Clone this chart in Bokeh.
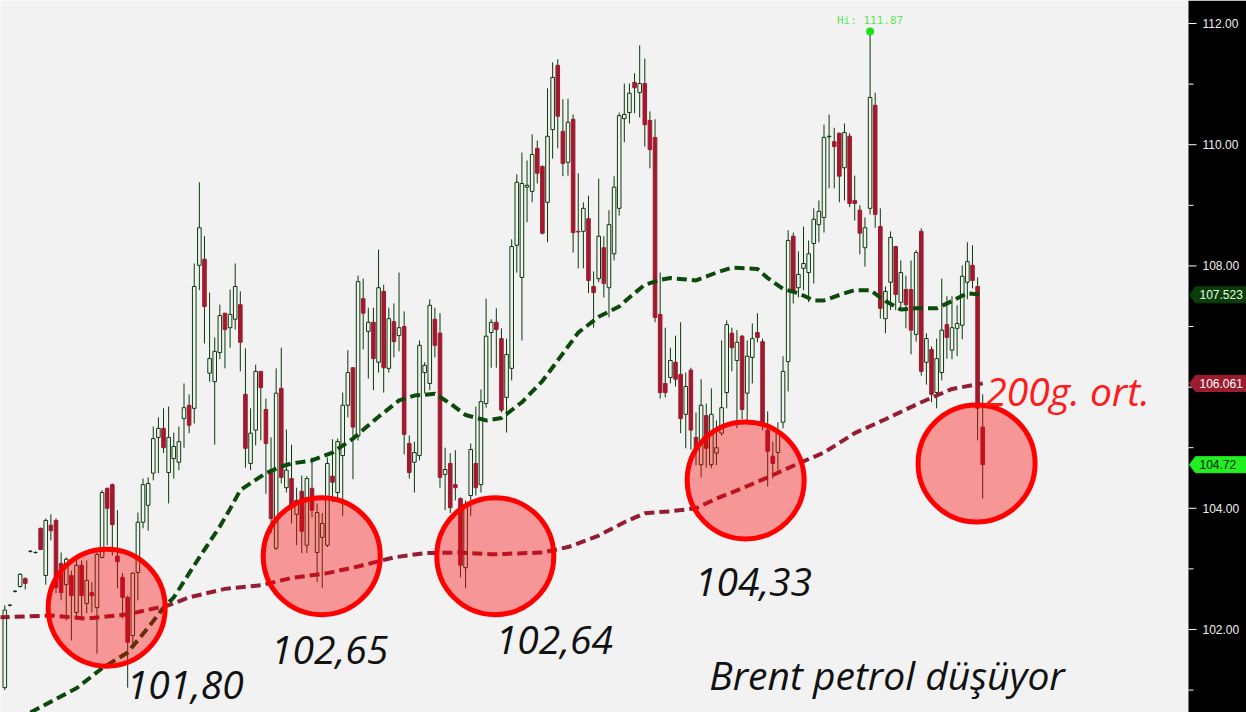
import numpy as np
from bokeh.plotting import figure
from bokeh.models import BoxAnnotation
from bokeh.core.properties import value
from bokeh.embed import file_html
from bokeh.resources import INLINE

# ---------------- data (Brent, daily OHLC) ----------------
opens = [101.04, 102.40, 102.63, 102.71, 102.84, 103.29, 103.27, 103.67, 102.89, 103.72,
         103.80, 103.09, 102.74, 102.89, 102.28, 103.06, 102.43, 102.61, 102.36, 103.19,
         104.33, 104.39, 103.21, 102.86, 102.53, 101.90, 102.94, 103.77, 104.05, 104.58,
         105.17, 105.32, 104.59, 104.82, 104.76, 105.48, 105.70, 105.65, 108.01, 108.11,
         106.23, 106.09, 106.57, 107.22, 106.98, 107.12, 107.36, 105.88, 104.74, 105.29,
         106.26, 105.63, 104.59, 103.34, 105.98, 104.34, 104.49, 103.90, 104.28, 103.39,
         104.33, 103.27, 103.52, 103.39, 104.53, 104.26, 104.87, 105.70, 106.32, 105.19,
         107.46, 106.92, 107.07, 106.41, 107.58, 106.31, 107.08, 106.85, 107.00, 105.07,
         104.76, 104.87, 106.24, 106.06, 107.12, 106.89, 104.56, 104.74, 104.39, 104.16,
         103.02, 104.21, 104.74, 104.39, 105.73, 106.90, 107.07, 106.80, 105.83, 106.31,
         108.34, 107.81, 109.30, 109.23, 109.94, 109.64, 109.05, 110.25, 111.31, 110.22,
         109.71, 110.42, 108.57, 108.57, 108.78, 107.66, 107.79, 108.30, 107.64, 108.20,
         108.95, 110.43, 110.53, 111.03, 110.86, 111.01, 110.40, 110.12, 107.20, 106.06,
         106.16, 106.41, 106.21, 105.55, 106.28, 105.17, 104.72, 105.53, 104.72, 104.91,
         105.24, 105.91, 106.89, 106.44, 106.84, 105.90, 106.49, 106.90, 106.75, 105.29,
         104.86, 104.92, 105.42, 106.42, 108.49, 107.64, 107.96, 107.89, 108.37, 108.68,
         108.80, 110.13, 110.05, 110.19, 109.62, 110.14, 109.08, 108.92, 108.30, 108.95,
         110.65, 108.65, 107.13, 107.73, 108.32, 107.40, 107.61, 107.61, 106.87, 108.57,
         106.41, 106.62, 105.91, 106.24, 107.03, 106.61, 106.97, 107.02, 107.73, 108.01,
         107.66, 105.34]
highs = [102.40, 102.42, 102.65, 102.93, 102.86, 103.31, 103.29, 103.68, 103.83, 103.90,
         103.83, 103.27, 103.19, 102.97, 103.14, 103.14, 103.14, 102.78, 103.27, 104.30,
         104.34, 104.41, 103.97, 102.93, 102.56, 102.94, 103.93, 104.49, 104.51, 105.35,
         105.50, 105.65, 105.68, 105.25, 105.35, 106.06, 105.88, 108.04, 109.38, 108.49,
         107.56, 106.82, 107.36, 107.22, 107.61, 108.04, 107.58, 106.64, 105.65, 106.37,
         106.26, 105.81, 105.17, 106.31, 106.65, 105.30, 105.05, 104.34, 104.54, 104.53,
         104.84, 104.08, 103.92, 104.84, 105.14, 105.15, 105.91, 106.61, 106.32, 107.84,
         107.79, 107.31, 107.31, 108.27, 107.69, 107.31, 107.38, 107.89, 107.25, 105.20,
         105.10, 106.77, 106.41, 107.45, 107.31, 107.22, 105.00, 104.91, 104.96, 104.18,
         104.13, 105.07, 105.68, 105.96, 107.46, 107.12, 107.30, 106.97, 106.80, 108.44,
         109.51, 109.87, 109.74, 110.17, 110.07, 109.66, 110.93, 111.36, 111.41, 110.75,
         110.76, 110.50, 109.53, 109.05, 109.16, 107.91, 109.44, 108.49, 108.92, 109.48,
         110.53, 111.01, 111.01, 111.18, 111.64, 111.42, 110.55, 110.42, 107.89, 106.98,
         106.65, 106.85, 107.07, 106.24, 106.32, 105.58, 106.13, 105.73, 105.98, 105.45,
         106.77, 107.10, 106.98, 106.94, 106.86, 106.77, 107.05, 107.22, 106.80, 105.60,
         105.10, 105.42, 106.51, 108.59, 108.55, 108.24, 108.65, 108.42, 108.95, 109.08,
         110.33, 110.50, 110.28, 110.20, 110.35, 110.19, 109.49, 109.00, 108.80, 111.87,
         110.86, 108.95, 107.66, 108.57, 108.33, 108.09, 107.84, 108.09, 108.26, 108.62,
         106.89, 106.67, 106.80, 107.79, 107.50, 107.50, 107.35, 108.01, 108.39, 108.34,
         107.81, 105.88]
lows = [101.00, 102.38, 102.61, 102.69, 102.66, 103.27, 103.25, 103.31, 102.74, 103.47,
        102.60, 102.48, 102.15, 101.82, 102.18, 102.15, 102.27, 102.28, 101.60, 103.17,
        103.39, 103.22, 102.68, 102.18, 101.04, 101.70, 102.48, 103.67, 103.63, 104.46,
        104.58, 104.91, 104.08, 104.49, 104.63, 105.00, 105.24, 105.40, 107.60, 106.72,
        106.09, 105.05, 106.46, 106.31, 106.65, 106.95, 106.26, 104.67, 104.63, 105.04,
        105.12, 104.24, 103.59, 103.31, 104.41, 104.26, 103.75, 103.39, 103.26, 103.26,
        103.85, 102.78, 102.69, 103.36, 104.10, 104.10, 103.87, 105.50, 104.48, 105.12,
        106.62, 106.14, 105.95, 106.24, 105.91, 106.24, 106.49, 106.59, 104.89, 104.49,
        104.26, 104.79, 105.90, 105.95, 106.49, 104.34, 103.97, 103.92, 104.13, 102.86,
        102.68, 103.87, 104.21, 104.26, 105.66, 106.32, 106.32, 105.58, 105.25, 106.11,
        107.89, 106.77, 108.72, 109.05, 109.36, 108.52, 108.39, 109.77, 109.94, 109.48,
        109.49, 108.22, 107.96, 107.96, 107.55, 106.98, 107.73, 107.48, 107.15, 108.09,
        108.83, 110.04, 110.35, 110.52, 110.45, 109.97, 109.61, 107.07, 105.81, 105.83,
        106.06, 106.01, 105.24, 104.99, 104.97, 104.71, 104.51, 104.67, 104.66, 104.71,
        105.20, 105.65, 106.26, 105.32, 105.47, 105.45, 106.06, 106.74, 105.29, 104.36,
        104.49, 104.63, 105.32, 105.93, 107.38, 107.48, 107.60, 107.40, 107.71, 108.39,
        108.55, 109.28, 109.28, 109.05, 109.08, 108.97, 108.75, 108.19, 107.99, 108.85,
        108.63, 107.13, 106.89, 107.27, 107.27, 107.28, 106.97, 106.54, 106.75, 106.19,
        106.04, 105.75, 105.65, 106.11, 106.47, 106.46, 106.51, 106.79, 107.45, 107.63,
        105.12, 104.16]
closes = [102.32, 102.40, 102.63, 102.91, 102.76, 103.29, 103.27, 103.32, 103.80, 103.63,
          102.69, 102.61, 103.16, 102.56, 103.06, 102.56, 102.81, 102.56, 103.24, 104.26,
          104.00, 103.73, 103.12, 102.53, 101.79, 102.93, 103.77, 104.39, 104.41, 105.15,
          105.32, 105.00, 105.17, 105.02, 105.10, 105.66, 105.37, 107.66, 108.63, 107.33,
          106.47, 106.59, 107.18, 106.95, 107.20, 107.66, 106.74, 104.99, 105.24, 106.26,
          105.99, 105.07, 103.83, 105.90, 104.51, 104.63, 104.01, 104.13, 103.62, 104.49,
          103.97, 103.93, 103.75, 104.74, 104.43, 105.10, 105.70, 106.24, 105.34, 107.74,
          107.22, 107.07, 106.47, 107.64, 106.32, 107.13, 106.75, 106.98, 105.22, 104.59,
          104.92, 106.69, 106.36, 107.35, 106.69, 104.51, 104.64, 104.01, 104.34, 103.06,
          104.06, 104.97, 104.34, 105.76, 106.84, 107.07, 106.95, 105.62, 106.54, 108.32,
          109.38, 109.36, 109.33, 109.84, 109.53, 108.54, 110.14, 111.11, 110.47, 109.69,
          110.37, 108.55, 108.56, 108.95, 107.76, 107.56, 108.49, 107.71, 108.68, 109.30,
          110.48, 110.50, 110.85, 110.94, 111.01, 110.33, 109.92, 107.15, 105.91, 105.91,
          106.44, 106.13, 105.48, 106.01, 105.29, 104.99, 105.70, 104.99, 105.55, 105.00,
          105.66, 107.03, 106.65, 106.74, 105.63, 106.51, 106.80, 106.82, 105.42, 104.94,
          104.74, 105.25, 106.26, 108.42, 107.56, 107.86, 108.04, 108.20, 108.77, 108.90,
          110.12, 110.14, 109.97, 109.48, 110.20, 109.03, 109.03, 108.54, 108.63, 110.78,
          108.85, 107.30, 107.58, 108.47, 107.53, 107.89, 107.36, 106.94, 108.22, 106.26,
          106.80, 105.88, 106.47, 106.94, 106.82, 106.98, 107.05, 107.83, 108.07, 107.76,
          105.65, 104.72]

# moving averages
ma_green_idx = [5, 14, 19, 24, 28, 31, 33, 38, 42, 44, 46, 49, 51, 54, 56, 60, 64, 68, 73, 77,
                80, 84, 87, 90, 94, 97, 101, 105, 108, 112, 116, 120, 122, 125, 128, 130, 135,
                139, 142, 147, 149, 152, 155, 158, 160, 163, 166, 169, 172, 175, 178, 182, 185,
                188, 191]
ma_green_val = [100.63, 101.03, 101.36, 101.62, 102.03, 102.36, 102.53, 103.19, 103.70, 103.99,
                104.30, 104.47, 104.58, 104.69, 104.74, 104.79, 104.92, 105.15, 105.51, 105.78,
                105.86, 105.89, 105.73, 105.54, 105.45, 105.49, 105.75, 106.10, 106.44, 106.90,
                107.16, 107.33, 107.48, 107.69, 107.77, 107.80, 107.76, 107.89, 107.97, 107.95,
                107.80, 107.62, 107.55, 107.43, 107.43, 107.52, 107.60, 107.60, 107.42, 107.28,
                107.30, 107.30, 107.42, 107.55, 107.523]
ma_red_idx = [-1, 9, 16, 24, 32, 36, 43, 50, 56, 63, 69, 76, 82, 89, 95, 105, 110, 116, 121,
              125, 130, 135, 139, 144, 149, 155, 160, 166, 172, 179, 185, 191]
ma_red_val = [102.20, 102.23, 102.18, 102.25, 102.40, 102.53, 102.67, 102.73, 102.85, 102.93,
              103.04, 103.19, 103.26, 103.27, 103.24, 103.27, 103.36, 103.55, 103.77, 103.92,
              103.95, 104.00, 104.16, 104.33, 104.51, 104.74, 104.92, 105.24, 105.47, 105.75,
              105.97, 106.061]

# highlighted lows (circles) and annotation texts
mark_x = [19.9, 61.9, 95.8, 144.7, 189.8]
mark_y = [102.36, 103.21, 103.21, 104.46, 104.74]
low_text = ["101,80", "102,65", "102,64", "104,33"]
low_text_x = [23.8, 52.0, 95.9, 134.8]
low_text_y = [101.09, 101.66, 101.83, 102.78]
ma_text = ["200g. ort."]
ma_text_x = [191.5]
ma_text_y = [105.95]
title_text = ["Brent petrol düşüyor"]
title_x = [137.6]
title_y = [101.26]

# price axis ticks and last-value tags
major_ticks = [102, 104, 106, 108, 110, 112]
minor_ticks = [101, 103, 105, 107, 109, 111]
tag_values = [107.523, 106.061, 104.72]
tag_text = ["107.523", "106.061", "104.72"]
tag_bg = ["#0b3d0b", "#9c1c2e", "#22ee22"]
tag_fg = ["#e8ffe8", "#ffffff", "#002200"]

# ---------------- figure ----------------
PX = 5.12      # pixels per bar
PY = 60.6      # pixels per price unit
X0, X1 = -0.84, 242.52
Y0, Y1 = 100.63, 112.38
AXIS_X = (1188 - 4.3) / PX   # start of price-axis panel (bar units)

idx = np.arange(len(opens))
o = np.array(opens); h = np.array(highs); l = np.array(lows); c = np.array(closes)
up = c >= o

p = figure(width=1246, height=712, x_range=(X0, X1), y_range=(Y0, Y1),
           x_axis_location=None, y_axis_location=None,
           toolbar_location=None, output_backend="svg",
           min_border=0, background_fill_color="#f2f2f2",
           border_fill_color="#f2f2f2", outline_line_color=None)
p.grid.grid_line_color = None

# price axis panel
p.add_layout(BoxAnnotation(left=AXIS_X, fill_color="#000000", fill_alpha=1.0,
                           line_color=None, level="underlay"))
p.segment(x0=[AXIS_X] * len(major_ticks), y0=major_ticks,
          x1=[AXIS_X + 8 / PX] * len(major_ticks), y1=major_ticks,
          line_color="white", line_width=1)
p.segment(x0=[AXIS_X] * len(minor_ticks), y0=minor_ticks,
          x1=[AXIS_X + 5 / PX] * len(minor_ticks), y1=minor_ticks,
          line_color="white", line_width=1)
p.text(x=[AXIS_X + 14 / PX] * len(major_ticks), y=major_ticks,
       text=[f"{t:.2f}" for t in major_ticks], text_baseline="middle", text_align="left",
       text_font=value("Liberation Sans"), text_font_size="12px", text_color="#f0f0f0")

# candles
wick_col = "#0a3a0a"
p.segment(x0=idx, y0=h, x1=idx, y1=l, line_color=wick_col, line_width=1)
p.vbar(x=idx[up], width=0.7, top=c[up], bottom=o[up],
       fill_color="#f2f2f2", line_color=wick_col, line_width=1)
p.vbar(x=idx[~up], width=0.7, top=o[~up], bottom=c[~up],
       fill_color="#a01a2e", line_color="#a01a2e", line_width=1)

# moving averages
p.line(ma_red_idx, ma_red_val, line_color="#951d32", line_width=4, line_dash="10 5")
p.line(ma_green_idx, ma_green_val, line_color="#0b4a0b", line_width=4, line_dash="10 5")

# circles around lows
p.scatter(mark_x, mark_y, marker="circle", size=117, fill_color="#ff0000", fill_alpha=0.38,
          line_color="#ff0000", line_width=5)

# high marker
hi_i = int(np.argmax(h)); hi_v = float(h[hi_i])
p.scatter([hi_i], [hi_v], marker="circle", size=8, fill_color="#1fe01f", line_color=None)
p.text(x=[hi_i], y=[hi_v + 4 / PY], text=[f"Hi: {hi_v:.2f}"], text_align="center",
       text_baseline="bottom", text_font=value("DejaVu Sans Mono"), text_font_size="11px",
       text_color="#5ee65e")

# annotations
big = dict(text_font=value("Open Sans"), text_font_style="italic", text_font_size="39px",
           text_baseline="alphabetic", text_align="left")
p.text(x=low_text_x, y=low_text_y, text=low_text, text_color="#111111", **big)
p.text(x=title_x, y=title_y, text=title_text, text_color="#111111", **big)
p.text(x=ma_text_x, y=ma_text_y, text=ma_text, text_color="#ff1a1a", **big)

# last-value tags on the price axis
tip = AXIS_X + 1 / PX
body = AXIS_X + 7 / PX
right = X1 + 1
hh = 8 / PY
xs = [[tip, body, right, right, body] for _ in tag_values]
ys = [[v, v + hh, v + hh, v - hh, v - hh] for v in tag_values]
p.patches(xs, ys, fill_color=tag_bg, line_color=tag_bg, line_width=1)
p.text(x=[AXIS_X + 11 / PX] * len(tag_values), y=tag_values, text=tag_text,
       text_color=tag_fg, text_baseline="middle", text_align="left",
       text_font=value("Liberation Sans"), text_font_size="12px")

open("out.html", "w").write(file_html(p, INLINE))
